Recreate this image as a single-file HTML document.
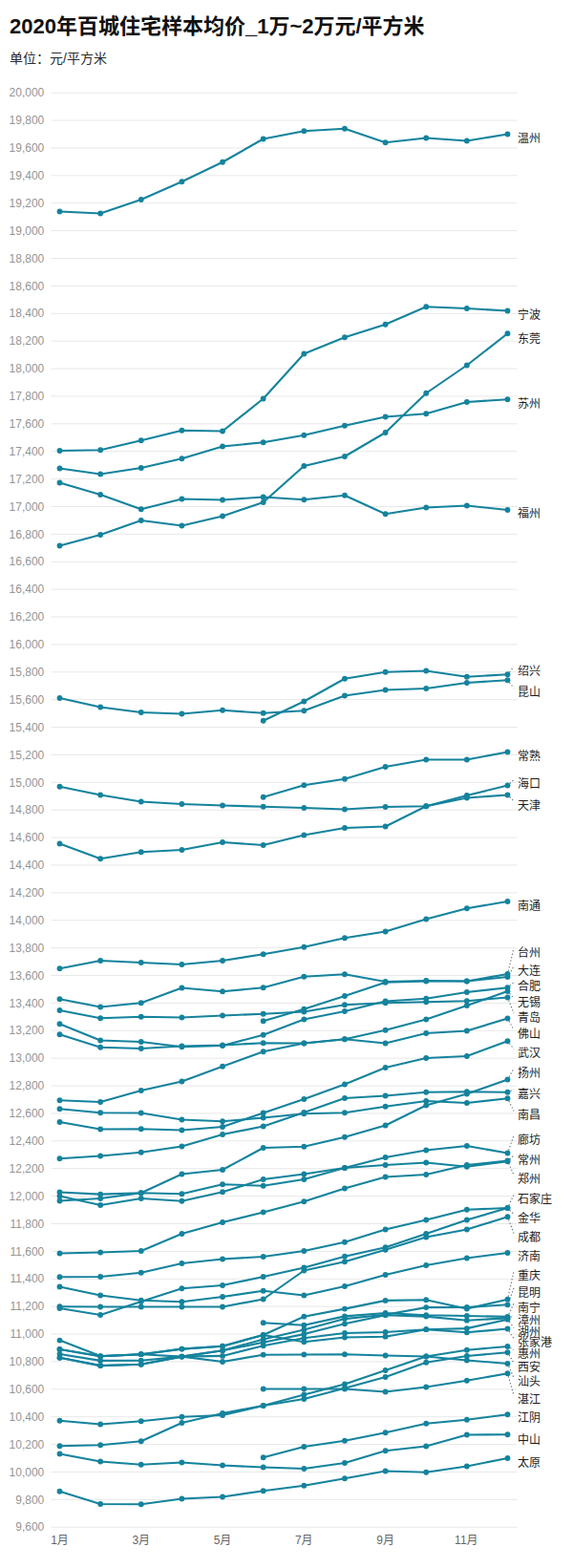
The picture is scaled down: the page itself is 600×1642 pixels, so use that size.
<!DOCTYPE html>
<html lang="zh"><head><meta charset="utf-8"><title>2020年百城住宅样本均价_1万~2万元/平方米</title>
<style>
html,body{margin:0;padding:0;background:#fff}
body{width:600px;height:1642px;overflow:hidden;font-family:"Liberation Sans","Noto Sans CJK SC",sans-serif}
svg{display:block}
text{font-family:"Liberation Sans","Noto Sans CJK SC",sans-serif}
</style></head>
<body>
<svg width="600" height="1642" viewBox="0 0 600 1642">
<g class="title" fill="#111">
<text x="10.00" y="35.00" font-size="22" font-weight="bold">2020年百城住宅样本均价_1万~2万元/平方米</text>
</g>
<g class="sub" fill="#2b2b2b">
<text x="10.00" y="66.00" font-size="14">单位：元/平方米</text>
</g>
<g class="grid" stroke="#e8e8e8" stroke-width="1">
<line x1="53.5" x2="541.5" y1="97.20" y2="97.20"/>
<line x1="53.5" x2="541.5" y1="126.09" y2="126.09"/>
<line x1="53.5" x2="541.5" y1="154.97" y2="154.97"/>
<line x1="53.5" x2="541.5" y1="183.86" y2="183.86"/>
<line x1="53.5" x2="541.5" y1="212.74" y2="212.74"/>
<line x1="53.5" x2="541.5" y1="241.62" y2="241.62"/>
<line x1="53.5" x2="541.5" y1="270.51" y2="270.51"/>
<line x1="53.5" x2="541.5" y1="299.40" y2="299.40"/>
<line x1="53.5" x2="541.5" y1="328.28" y2="328.28"/>
<line x1="53.5" x2="541.5" y1="357.17" y2="357.17"/>
<line x1="53.5" x2="541.5" y1="386.05" y2="386.05"/>
<line x1="53.5" x2="541.5" y1="414.94" y2="414.94"/>
<line x1="53.5" x2="541.5" y1="443.82" y2="443.82"/>
<line x1="53.5" x2="541.5" y1="472.70" y2="472.70"/>
<line x1="53.5" x2="541.5" y1="501.59" y2="501.59"/>
<line x1="53.5" x2="541.5" y1="530.48" y2="530.48"/>
<line x1="53.5" x2="541.5" y1="559.36" y2="559.36"/>
<line x1="53.5" x2="541.5" y1="588.25" y2="588.25"/>
<line x1="53.5" x2="541.5" y1="617.13" y2="617.13"/>
<line x1="53.5" x2="541.5" y1="646.02" y2="646.02"/>
<line x1="53.5" x2="541.5" y1="674.90" y2="674.90"/>
<line x1="53.5" x2="541.5" y1="703.79" y2="703.79"/>
<line x1="53.5" x2="541.5" y1="732.67" y2="732.67"/>
<line x1="53.5" x2="541.5" y1="761.56" y2="761.56"/>
<line x1="53.5" x2="541.5" y1="790.44" y2="790.44"/>
<line x1="53.5" x2="541.5" y1="819.33" y2="819.33"/>
<line x1="53.5" x2="541.5" y1="848.21" y2="848.21"/>
<line x1="53.5" x2="541.5" y1="877.10" y2="877.10"/>
<line x1="53.5" x2="541.5" y1="905.98" y2="905.98"/>
<line x1="53.5" x2="541.5" y1="934.87" y2="934.87"/>
<line x1="53.5" x2="541.5" y1="963.75" y2="963.75"/>
<line x1="53.5" x2="541.5" y1="992.64" y2="992.64"/>
<line x1="53.5" x2="541.5" y1="1021.52" y2="1021.52"/>
<line x1="53.5" x2="541.5" y1="1050.40" y2="1050.40"/>
<line x1="53.5" x2="541.5" y1="1079.29" y2="1079.29"/>
<line x1="53.5" x2="541.5" y1="1108.17" y2="1108.17"/>
<line x1="53.5" x2="541.5" y1="1137.06" y2="1137.06"/>
<line x1="53.5" x2="541.5" y1="1165.95" y2="1165.95"/>
<line x1="53.5" x2="541.5" y1="1194.83" y2="1194.83"/>
<line x1="53.5" x2="541.5" y1="1223.72" y2="1223.72"/>
<line x1="53.5" x2="541.5" y1="1252.60" y2="1252.60"/>
<line x1="53.5" x2="541.5" y1="1281.49" y2="1281.49"/>
<line x1="53.5" x2="541.5" y1="1310.37" y2="1310.37"/>
<line x1="53.5" x2="541.5" y1="1339.26" y2="1339.26"/>
<line x1="53.5" x2="541.5" y1="1368.14" y2="1368.14"/>
<line x1="53.5" x2="541.5" y1="1397.03" y2="1397.03"/>
<line x1="53.5" x2="541.5" y1="1425.91" y2="1425.91"/>
<line x1="53.5" x2="541.5" y1="1454.80" y2="1454.80"/>
<line x1="53.5" x2="541.5" y1="1483.68" y2="1483.68"/>
<line x1="53.5" x2="541.5" y1="1512.57" y2="1512.57"/>
<line x1="53.5" x2="541.5" y1="1541.45" y2="1541.45"/>
<line x1="53.5" x2="541.5" y1="1570.34" y2="1570.34"/>
<line x1="53.5" x2="541.5" y1="1599.22" y2="1599.22"/>
</g>
<g class="yl" fill="#959595">
<text x="46.30" y="101.40" font-size="12" text-anchor="end">20,000</text>
<text x="46.30" y="130.28" font-size="12" text-anchor="end">19,800</text>
<text x="46.30" y="159.17" font-size="12" text-anchor="end">19,600</text>
<text x="46.30" y="188.06" font-size="12" text-anchor="end">19,400</text>
<text x="46.30" y="216.94" font-size="12" text-anchor="end">19,200</text>
<text x="46.30" y="245.82" font-size="12" text-anchor="end">19,000</text>
<text x="46.30" y="274.71" font-size="12" text-anchor="end">18,800</text>
<text x="46.30" y="303.60" font-size="12" text-anchor="end">18,600</text>
<text x="46.30" y="332.48" font-size="12" text-anchor="end">18,400</text>
<text x="46.30" y="361.37" font-size="12" text-anchor="end">18,200</text>
<text x="46.30" y="390.25" font-size="12" text-anchor="end">18,000</text>
<text x="46.30" y="419.13" font-size="12" text-anchor="end">17,800</text>
<text x="46.30" y="448.02" font-size="12" text-anchor="end">17,600</text>
<text x="46.30" y="476.90" font-size="12" text-anchor="end">17,400</text>
<text x="46.30" y="505.79" font-size="12" text-anchor="end">17,200</text>
<text x="46.30" y="534.68" font-size="12" text-anchor="end">17,000</text>
<text x="46.30" y="563.56" font-size="12" text-anchor="end">16,800</text>
<text x="46.30" y="592.45" font-size="12" text-anchor="end">16,600</text>
<text x="46.30" y="621.33" font-size="12" text-anchor="end">16,400</text>
<text x="46.30" y="650.22" font-size="12" text-anchor="end">16,200</text>
<text x="46.30" y="679.10" font-size="12" text-anchor="end">16,000</text>
<text x="46.30" y="707.99" font-size="12" text-anchor="end">15,800</text>
<text x="46.30" y="736.87" font-size="12" text-anchor="end">15,600</text>
<text x="46.30" y="765.76" font-size="12" text-anchor="end">15,400</text>
<text x="46.30" y="794.64" font-size="12" text-anchor="end">15,200</text>
<text x="46.30" y="823.53" font-size="12" text-anchor="end">15,000</text>
<text x="46.30" y="852.41" font-size="12" text-anchor="end">14,800</text>
<text x="46.30" y="881.30" font-size="12" text-anchor="end">14,600</text>
<text x="46.30" y="910.18" font-size="12" text-anchor="end">14,400</text>
<text x="46.30" y="939.07" font-size="12" text-anchor="end">14,200</text>
<text x="46.30" y="967.95" font-size="12" text-anchor="end">14,000</text>
<text x="46.30" y="996.84" font-size="12" text-anchor="end">13,800</text>
<text x="46.30" y="1025.72" font-size="12" text-anchor="end">13,600</text>
<text x="46.30" y="1054.61" font-size="12" text-anchor="end">13,400</text>
<text x="46.30" y="1083.49" font-size="12" text-anchor="end">13,200</text>
<text x="46.30" y="1112.38" font-size="12" text-anchor="end">13,000</text>
<text x="46.30" y="1141.26" font-size="12" text-anchor="end">12,800</text>
<text x="46.30" y="1170.15" font-size="12" text-anchor="end">12,600</text>
<text x="46.30" y="1199.03" font-size="12" text-anchor="end">12,400</text>
<text x="46.30" y="1227.92" font-size="12" text-anchor="end">12,200</text>
<text x="46.30" y="1256.80" font-size="12" text-anchor="end">12,000</text>
<text x="46.30" y="1285.69" font-size="12" text-anchor="end">11,800</text>
<text x="46.30" y="1314.57" font-size="12" text-anchor="end">11,600</text>
<text x="46.30" y="1343.46" font-size="12" text-anchor="end">11,400</text>
<text x="46.30" y="1372.34" font-size="12" text-anchor="end">11,200</text>
<text x="46.30" y="1401.23" font-size="12" text-anchor="end">11,000</text>
<text x="46.30" y="1430.11" font-size="12" text-anchor="end">10,800</text>
<text x="46.30" y="1459.00" font-size="12" text-anchor="end">10,600</text>
<text x="46.30" y="1487.88" font-size="12" text-anchor="end">10,400</text>
<text x="46.30" y="1516.77" font-size="12" text-anchor="end">10,200</text>
<text x="46.30" y="1545.65" font-size="12" text-anchor="end">10,000</text>
<text x="46.30" y="1574.54" font-size="12" text-anchor="end">9,800</text>
<text x="46.30" y="1603.42" font-size="12" text-anchor="end">9,600</text>
</g>
<g class="xl" fill="#666">
<text x="53.13" y="1617.00" font-size="12">1月</text>
<text x="138.40" y="1617.00" font-size="12">3月</text>
<text x="223.67" y="1617.00" font-size="12">5月</text>
<text x="308.94" y="1617.00" font-size="12">7月</text>
<text x="394.22" y="1617.00" font-size="12">9月</text>
<text x="476.12" y="1617.00" font-size="12">11月</text>
</g>
<g class="lead" stroke="#566f77" stroke-width="1.1" stroke-dasharray="1.3 2.2" fill="none">
<line x1="533.48" y1="703.74" x2="538" y2="698.00"/>
<line x1="533.48" y1="714.76" x2="538" y2="720.50"/>
<line x1="533.87" y1="820.35" x2="538" y2="816.60"/>
<line x1="533.76" y1="834.76" x2="538" y2="839.00"/>
<line x1="532.25" y1="1016.89" x2="538" y2="993.00"/>
<line x1="533.12" y1="1020.25" x2="538" y2="1012.00"/>
<line x1="533.93" y1="1032.17" x2="538" y2="1028.70"/>
<line x1="533.62" y1="1040.39" x2="538" y2="1045.30"/>
<line x1="532.67" y1="1047.48" x2="538" y2="1061.00"/>
<line x1="533.02" y1="1069.31" x2="538" y2="1078.50"/>
<line x1="533.48" y1="1092.76" x2="538" y2="1098.50"/>
<line x1="533.07" y1="1127.71" x2="538" y2="1119.00"/>
<line x1="534.44" y1="1142.50" x2="538" y2="1141.00"/>
<line x1="532.91" y1="1153.12" x2="538" y2="1163.50"/>
<line x1="532.57" y1="1204.49" x2="538" y2="1189.25"/>
<line x1="533.80" y1="1214.03" x2="538" y2="1210.00"/>
<line x1="532.77" y1="1218.44" x2="538" y2="1230.50"/>
<line x1="532.84" y1="1262.10" x2="538" y2="1251.00"/>
<line x1="533.76" y1="1267.26" x2="538" y2="1271.50"/>
<line x1="532.62" y1="1277.24" x2="538" y2="1291.50"/>
<line x1="532.19" y1="1357.58" x2="538" y2="1331.50"/>
<line x1="532.62" y1="1363.30" x2="538" y2="1349.00"/>
<line x1="532.85" y1="1376.00" x2="538" y2="1365.00"/>
<line x1="534.50" y1="1379.29" x2="538" y2="1378.00"/>
<line x1="533.43" y1="1384.25" x2="538" y2="1390.30"/>
<line x1="533.19" y1="1394.21" x2="538" y2="1401.90"/>
<line x1="534.31" y1="1411.52" x2="538" y2="1413.50"/>
<line x1="533.12" y1="1419.00" x2="538" y2="1427.25"/>
<line x1="532.79" y1="1430.93" x2="538" y2="1442.70"/>
<line x1="532.38" y1="1441.33" x2="538" y2="1461.00"/>
</g>
<g class="series" fill="none" stroke="#15839d" stroke-width="2.1" stroke-linejoin="round" stroke-linecap="round">
<polyline points="62.50,221.50 105.14,223.50 147.77,209.00 190.41,190.25 233.04,169.75 275.68,145.50 318.32,137.25 360.95,134.75 403.59,149.25 446.22,144.50 488.86,147.50 531.50,140.50"/>
<polyline points="62.50,472.00 105.14,471.25 147.77,461.25 190.41,450.75 233.04,451.50 275.68,417.50 318.32,370.50 360.95,353.25 403.59,339.75 446.22,321.25 488.86,323.00 531.50,325.50"/>
<polyline points="62.50,571.50 105.14,560.00 147.77,545.00 190.41,550.50 233.04,540.50 275.68,526.00 318.32,488.00 360.95,478.00 403.59,453.00 446.22,411.75 488.86,382.50 531.50,349.25"/>
<polyline points="62.50,490.50 105.14,496.50 147.77,490.00 190.41,480.25 233.04,467.50 275.68,463.25 318.32,455.75 360.95,445.75 403.59,436.50 446.22,433.25 488.86,421.00 531.50,418.25"/>
<polyline points="62.50,505.50 105.14,518.00 147.77,533.25 190.41,522.50 233.04,523.50 275.68,520.50 318.32,523.25 360.95,518.75 403.59,538.25 446.22,531.50 488.86,529.50 531.50,534.00"/>
<polyline points="275.68,754.75 318.32,734.50 360.95,710.75 403.59,703.75 446.22,702.50 488.86,708.75 531.50,706.25"/>
<polyline points="62.50,731.00 105.14,740.50 147.77,746.00 190.41,747.50 233.04,743.75 275.68,746.75 318.32,744.25 360.95,728.50 403.59,722.50 446.22,721.00 488.86,715.00 531.50,712.25"/>
<polyline points="275.68,834.75 318.32,822.25 360.95,815.75 403.59,803.00 446.22,795.50 488.86,795.50 531.50,787.50"/>
<polyline points="62.50,883.50 105.14,899.25 147.77,892.25 190.41,890.00 233.04,882.00 275.68,885.00 318.32,874.50 360.95,867.00 403.59,865.50 446.22,844.25 488.86,833.00 531.50,822.50"/>
<polyline points="62.50,823.75 105.14,832.50 147.77,839.50 190.41,842.00 233.04,843.50 275.68,844.75 318.32,846.00 360.95,847.50 403.59,845.00 446.22,844.25 488.86,835.50 531.50,832.50"/>
<polyline points="62.50,1014.25 105.14,1006.00 147.77,1008.00 190.41,1010.00 233.04,1006.00 275.68,999.25 318.32,991.75 360.95,982.25 403.59,975.50 446.22,962.50 488.86,951.25 531.50,944.00"/>
<polyline points="62.50,1046.25 105.14,1054.50 147.77,1050.25 190.41,1034.50 233.04,1038.25 275.68,1034.25 318.32,1022.75 360.95,1020.25 403.59,1028.00 446.22,1027.00 488.86,1027.50 531.50,1020.00"/>
<polyline points="275.68,1069.25 318.32,1056.75 360.95,1043.00 403.59,1028.75 446.22,1027.50 488.86,1027.50 531.50,1023.00"/>
<polyline points="62.50,1072.25 105.14,1089.50 147.77,1091.00 190.41,1096.25 233.04,1095.00 275.68,1083.75 318.32,1067.50 360.95,1059.00 403.59,1048.50 446.22,1045.75 488.86,1039.00 531.50,1034.25"/>
<polyline points="62.50,1152.25 105.14,1154.00 147.77,1142.00 190.41,1132.50 233.04,1116.75 275.68,1101.25 318.32,1092.50 360.95,1088.25 403.59,1078.75 446.22,1067.50 488.86,1053.00 531.50,1038.00"/>
<polyline points="62.50,1058.00 105.14,1066.25 147.77,1064.75 190.41,1065.50 233.04,1063.50 275.68,1061.75 318.32,1059.50 360.95,1052.25 403.59,1050.25 446.22,1049.25 488.86,1048.25 531.50,1044.50"/>
<polyline points="62.50,1083.25 105.14,1096.75 147.77,1098.00 190.41,1095.50 233.04,1094.50 275.68,1092.25 318.32,1092.50 360.95,1088.25 403.59,1092.50 446.22,1082.00 488.86,1079.50 531.50,1066.50"/>
<polyline points="62.50,1175.00 105.14,1182.50 147.77,1182.25 190.41,1183.50 233.04,1180.00 275.68,1165.50 318.32,1151.00 360.95,1135.50 403.59,1118.00 446.22,1108.00 488.86,1106.00 531.50,1090.25"/>
<polyline points="62.50,1257.50 105.14,1255.00 147.77,1249.25 190.41,1229.50 233.04,1225.00 275.68,1202.00 318.32,1200.75 360.95,1190.75 403.59,1178.50 446.22,1157.50 488.86,1145.50 531.50,1130.50"/>
<polyline points="62.50,1213.25 105.14,1210.50 147.77,1206.75 190.41,1200.50 233.04,1188.00 275.68,1179.50 318.32,1165.00 360.95,1150.00 403.59,1147.50 446.22,1143.75 488.86,1143.25 531.50,1143.75"/>
<polyline points="62.50,1161.25 105.14,1165.25 147.77,1165.50 190.41,1172.50 233.04,1174.25 275.68,1170.50 318.32,1166.25 360.95,1165.25 403.59,1158.75 446.22,1153.00 488.86,1155.00 531.50,1150.25"/>
<polyline points="62.50,1252.50 105.14,1262.00 147.77,1255.00 190.41,1257.75 233.04,1248.25 275.68,1235.00 318.32,1229.50 360.95,1223.00 403.59,1212.00 446.22,1204.50 488.86,1200.00 531.50,1207.50"/>
<polyline points="62.50,1248.50 105.14,1250.60 147.77,1249.25 190.41,1250.25 233.04,1240.25 275.68,1241.75 318.32,1235.00 360.95,1223.00 403.59,1220.00 446.22,1217.50 488.86,1221.75 531.50,1216.25"/>
<polyline points="62.50,1312.50 105.14,1311.50 147.77,1310.00 190.41,1292.00 233.04,1280.00 275.68,1269.50 318.32,1258.25 360.95,1244.50 403.59,1232.50 446.22,1230.00 488.86,1220.00 531.50,1215.50"/>
<polyline points="62.50,1337.25 105.14,1337.00 147.77,1332.75 190.41,1323.00 233.04,1318.50 275.68,1316.00 318.32,1310.00 360.95,1300.75 403.59,1287.50 446.22,1277.50 488.86,1266.75 531.50,1265.00"/>
<polyline points="62.50,1370.00 105.14,1377.00 147.77,1363.00 190.41,1349.25 233.04,1346.00 275.68,1337.00 318.32,1327.50 360.95,1315.75 403.59,1306.25 446.22,1292.00 488.86,1277.50 531.50,1265.00"/>
<polyline points="62.50,1368.25 105.14,1368.50 147.77,1368.50 190.41,1368.50 233.04,1368.50 275.68,1360.50 318.32,1330.50 360.95,1321.25 403.59,1308.75 446.22,1295.50 488.86,1287.50 531.50,1274.25"/>
<polyline points="62.50,1347.50 105.14,1356.50 147.77,1361.75 190.41,1363.25 233.04,1358.00 275.68,1351.75 318.32,1356.50 360.95,1347.00 403.59,1335.00 446.22,1325.00 488.86,1317.50 531.50,1312.00"/>
<polyline points="62.50,1403.60 105.14,1420.10 147.77,1418.20 190.41,1412.60 233.04,1409.70 275.68,1398.00 318.32,1378.70 360.95,1370.60 403.59,1361.90 446.22,1361.20 488.86,1370.50 531.50,1360.70"/>
<polyline points="62.50,1413.00 105.14,1420.30 147.77,1418.20 190.41,1420.60 233.04,1414.30 275.68,1402.50 318.32,1392.40 360.95,1381.10 403.59,1376.80 446.22,1369.10 488.86,1369.00 531.50,1366.30"/>
<polyline points="275.68,1385.20 318.32,1387.70 360.95,1378.40 403.59,1375.00 446.22,1377.20 488.86,1378.00 531.50,1378.90"/>
<polyline points="62.50,1418.00 105.14,1424.90 147.77,1424.75 190.41,1420.60 233.04,1414.30 275.68,1405.80 318.32,1397.10 360.95,1386.30 403.59,1377.20 446.22,1378.60 488.86,1382.70 531.50,1380.40"/>
<polyline points="62.50,1421.80 105.14,1430.10 147.77,1428.80 190.41,1420.60 233.04,1419.90 275.68,1409.30 318.32,1401.30 360.95,1396.00 403.59,1395.00 446.22,1392.20 488.86,1391.10 531.50,1381.70"/>
<polyline points="62.50,1413.00 105.14,1420.30 147.77,1418.20 190.41,1412.60 233.04,1409.70 275.68,1398.00 318.32,1405.30 360.95,1400.50 403.59,1399.70 446.22,1392.20 488.86,1395.30 531.50,1391.50"/>
<polyline points="62.50,1514.25 105.14,1513.25 147.77,1509.25 190.41,1490.00 233.04,1480.00 275.68,1472.00 318.32,1460.50 360.95,1449.50 403.59,1435.00 446.22,1420.50 488.86,1413.75 531.50,1410.00"/>
<polyline points="62.50,1487.75 105.14,1491.50 147.77,1488.25 190.41,1483.75 233.04,1482.00 275.68,1472.00 318.32,1465.00 360.95,1453.75 403.59,1442.00 446.22,1426.75 488.86,1420.00 531.50,1416.25"/>
<polyline points="62.50,1421.80 105.14,1430.10 147.77,1428.80 190.41,1420.60 233.04,1426.00 275.68,1418.70 318.32,1418.50 360.95,1418.25 403.59,1419.50 446.22,1420.50 488.86,1424.50 531.50,1428.00"/>
<polyline points="275.68,1454.50 318.32,1454.50 360.95,1454.50 403.59,1457.50 446.22,1452.50 488.86,1445.75 531.50,1438.25"/>
<polyline points="275.68,1526.25 318.32,1515.00 360.95,1508.75 403.59,1500.25 446.22,1490.75 488.86,1486.75 531.50,1481.25"/>
<polyline points="62.50,1522.50 105.14,1530.50 147.77,1533.75 190.41,1531.50 233.04,1534.50 275.68,1536.50 318.32,1538.00 360.95,1532.00 403.59,1519.25 446.22,1514.50 488.86,1502.50 531.50,1502.25"/>
<polyline points="62.50,1561.75 105.14,1575.00 147.77,1575.25 190.41,1569.50 233.04,1567.50 275.68,1561.25 318.32,1555.75 360.95,1548.25 403.59,1540.50 446.22,1541.75 488.86,1535.50 531.50,1527.00"/>
</g>
<g class="dots" fill="#15839d">
<circle cx="62.50" cy="221.50" r="2.9"/>
<circle cx="105.14" cy="223.50" r="2.9"/>
<circle cx="147.77" cy="209.00" r="2.9"/>
<circle cx="190.41" cy="190.25" r="2.9"/>
<circle cx="233.04" cy="169.75" r="2.9"/>
<circle cx="275.68" cy="145.50" r="2.9"/>
<circle cx="318.32" cy="137.25" r="2.9"/>
<circle cx="360.95" cy="134.75" r="2.9"/>
<circle cx="403.59" cy="149.25" r="2.9"/>
<circle cx="446.22" cy="144.50" r="2.9"/>
<circle cx="488.86" cy="147.50" r="2.9"/>
<circle cx="531.50" cy="140.50" r="2.9"/>
<circle cx="62.50" cy="472.00" r="2.9"/>
<circle cx="105.14" cy="471.25" r="2.9"/>
<circle cx="147.77" cy="461.25" r="2.9"/>
<circle cx="190.41" cy="450.75" r="2.9"/>
<circle cx="233.04" cy="451.50" r="2.9"/>
<circle cx="275.68" cy="417.50" r="2.9"/>
<circle cx="318.32" cy="370.50" r="2.9"/>
<circle cx="360.95" cy="353.25" r="2.9"/>
<circle cx="403.59" cy="339.75" r="2.9"/>
<circle cx="446.22" cy="321.25" r="2.9"/>
<circle cx="488.86" cy="323.00" r="2.9"/>
<circle cx="531.50" cy="325.50" r="2.9"/>
<circle cx="62.50" cy="571.50" r="2.9"/>
<circle cx="105.14" cy="560.00" r="2.9"/>
<circle cx="147.77" cy="545.00" r="2.9"/>
<circle cx="190.41" cy="550.50" r="2.9"/>
<circle cx="233.04" cy="540.50" r="2.9"/>
<circle cx="275.68" cy="526.00" r="2.9"/>
<circle cx="318.32" cy="488.00" r="2.9"/>
<circle cx="360.95" cy="478.00" r="2.9"/>
<circle cx="403.59" cy="453.00" r="2.9"/>
<circle cx="446.22" cy="411.75" r="2.9"/>
<circle cx="488.86" cy="382.50" r="2.9"/>
<circle cx="531.50" cy="349.25" r="2.9"/>
<circle cx="62.50" cy="490.50" r="2.9"/>
<circle cx="105.14" cy="496.50" r="2.9"/>
<circle cx="147.77" cy="490.00" r="2.9"/>
<circle cx="190.41" cy="480.25" r="2.9"/>
<circle cx="233.04" cy="467.50" r="2.9"/>
<circle cx="275.68" cy="463.25" r="2.9"/>
<circle cx="318.32" cy="455.75" r="2.9"/>
<circle cx="360.95" cy="445.75" r="2.9"/>
<circle cx="403.59" cy="436.50" r="2.9"/>
<circle cx="446.22" cy="433.25" r="2.9"/>
<circle cx="488.86" cy="421.00" r="2.9"/>
<circle cx="531.50" cy="418.25" r="2.9"/>
<circle cx="62.50" cy="505.50" r="2.9"/>
<circle cx="105.14" cy="518.00" r="2.9"/>
<circle cx="147.77" cy="533.25" r="2.9"/>
<circle cx="190.41" cy="522.50" r="2.9"/>
<circle cx="233.04" cy="523.50" r="2.9"/>
<circle cx="275.68" cy="520.50" r="2.9"/>
<circle cx="318.32" cy="523.25" r="2.9"/>
<circle cx="360.95" cy="518.75" r="2.9"/>
<circle cx="403.59" cy="538.25" r="2.9"/>
<circle cx="446.22" cy="531.50" r="2.9"/>
<circle cx="488.86" cy="529.50" r="2.9"/>
<circle cx="531.50" cy="534.00" r="2.9"/>
<circle cx="275.68" cy="754.75" r="2.9"/>
<circle cx="318.32" cy="734.50" r="2.9"/>
<circle cx="360.95" cy="710.75" r="2.9"/>
<circle cx="403.59" cy="703.75" r="2.9"/>
<circle cx="446.22" cy="702.50" r="2.9"/>
<circle cx="488.86" cy="708.75" r="2.9"/>
<circle cx="531.50" cy="706.25" r="2.9"/>
<circle cx="62.50" cy="731.00" r="2.9"/>
<circle cx="105.14" cy="740.50" r="2.9"/>
<circle cx="147.77" cy="746.00" r="2.9"/>
<circle cx="190.41" cy="747.50" r="2.9"/>
<circle cx="233.04" cy="743.75" r="2.9"/>
<circle cx="275.68" cy="746.75" r="2.9"/>
<circle cx="318.32" cy="744.25" r="2.9"/>
<circle cx="360.95" cy="728.50" r="2.9"/>
<circle cx="403.59" cy="722.50" r="2.9"/>
<circle cx="446.22" cy="721.00" r="2.9"/>
<circle cx="488.86" cy="715.00" r="2.9"/>
<circle cx="531.50" cy="712.25" r="2.9"/>
<circle cx="275.68" cy="834.75" r="2.9"/>
<circle cx="318.32" cy="822.25" r="2.9"/>
<circle cx="360.95" cy="815.75" r="2.9"/>
<circle cx="403.59" cy="803.00" r="2.9"/>
<circle cx="446.22" cy="795.50" r="2.9"/>
<circle cx="488.86" cy="795.50" r="2.9"/>
<circle cx="531.50" cy="787.50" r="2.9"/>
<circle cx="62.50" cy="883.50" r="2.9"/>
<circle cx="105.14" cy="899.25" r="2.9"/>
<circle cx="147.77" cy="892.25" r="2.9"/>
<circle cx="190.41" cy="890.00" r="2.9"/>
<circle cx="233.04" cy="882.00" r="2.9"/>
<circle cx="275.68" cy="885.00" r="2.9"/>
<circle cx="318.32" cy="874.50" r="2.9"/>
<circle cx="360.95" cy="867.00" r="2.9"/>
<circle cx="403.59" cy="865.50" r="2.9"/>
<circle cx="446.22" cy="844.25" r="2.9"/>
<circle cx="488.86" cy="833.00" r="2.9"/>
<circle cx="531.50" cy="822.50" r="2.9"/>
<circle cx="62.50" cy="823.75" r="2.9"/>
<circle cx="105.14" cy="832.50" r="2.9"/>
<circle cx="147.77" cy="839.50" r="2.9"/>
<circle cx="190.41" cy="842.00" r="2.9"/>
<circle cx="233.04" cy="843.50" r="2.9"/>
<circle cx="275.68" cy="844.75" r="2.9"/>
<circle cx="318.32" cy="846.00" r="2.9"/>
<circle cx="360.95" cy="847.50" r="2.9"/>
<circle cx="403.59" cy="845.00" r="2.9"/>
<circle cx="446.22" cy="844.25" r="2.9"/>
<circle cx="488.86" cy="835.50" r="2.9"/>
<circle cx="531.50" cy="832.50" r="2.9"/>
<circle cx="62.50" cy="1014.25" r="2.9"/>
<circle cx="105.14" cy="1006.00" r="2.9"/>
<circle cx="147.77" cy="1008.00" r="2.9"/>
<circle cx="190.41" cy="1010.00" r="2.9"/>
<circle cx="233.04" cy="1006.00" r="2.9"/>
<circle cx="275.68" cy="999.25" r="2.9"/>
<circle cx="318.32" cy="991.75" r="2.9"/>
<circle cx="360.95" cy="982.25" r="2.9"/>
<circle cx="403.59" cy="975.50" r="2.9"/>
<circle cx="446.22" cy="962.50" r="2.9"/>
<circle cx="488.86" cy="951.25" r="2.9"/>
<circle cx="531.50" cy="944.00" r="2.9"/>
<circle cx="62.50" cy="1046.25" r="2.9"/>
<circle cx="105.14" cy="1054.50" r="2.9"/>
<circle cx="147.77" cy="1050.25" r="2.9"/>
<circle cx="190.41" cy="1034.50" r="2.9"/>
<circle cx="233.04" cy="1038.25" r="2.9"/>
<circle cx="275.68" cy="1034.25" r="2.9"/>
<circle cx="318.32" cy="1022.75" r="2.9"/>
<circle cx="360.95" cy="1020.25" r="2.9"/>
<circle cx="403.59" cy="1028.00" r="2.9"/>
<circle cx="446.22" cy="1027.00" r="2.9"/>
<circle cx="488.86" cy="1027.50" r="2.9"/>
<circle cx="531.50" cy="1020.00" r="2.9"/>
<circle cx="275.68" cy="1069.25" r="2.9"/>
<circle cx="318.32" cy="1056.75" r="2.9"/>
<circle cx="360.95" cy="1043.00" r="2.9"/>
<circle cx="403.59" cy="1028.75" r="2.9"/>
<circle cx="446.22" cy="1027.50" r="2.9"/>
<circle cx="488.86" cy="1027.50" r="2.9"/>
<circle cx="531.50" cy="1023.00" r="2.9"/>
<circle cx="62.50" cy="1072.25" r="2.9"/>
<circle cx="105.14" cy="1089.50" r="2.9"/>
<circle cx="147.77" cy="1091.00" r="2.9"/>
<circle cx="190.41" cy="1096.25" r="2.9"/>
<circle cx="233.04" cy="1095.00" r="2.9"/>
<circle cx="275.68" cy="1083.75" r="2.9"/>
<circle cx="318.32" cy="1067.50" r="2.9"/>
<circle cx="360.95" cy="1059.00" r="2.9"/>
<circle cx="403.59" cy="1048.50" r="2.9"/>
<circle cx="446.22" cy="1045.75" r="2.9"/>
<circle cx="488.86" cy="1039.00" r="2.9"/>
<circle cx="531.50" cy="1034.25" r="2.9"/>
<circle cx="62.50" cy="1152.25" r="2.9"/>
<circle cx="105.14" cy="1154.00" r="2.9"/>
<circle cx="147.77" cy="1142.00" r="2.9"/>
<circle cx="190.41" cy="1132.50" r="2.9"/>
<circle cx="233.04" cy="1116.75" r="2.9"/>
<circle cx="275.68" cy="1101.25" r="2.9"/>
<circle cx="318.32" cy="1092.50" r="2.9"/>
<circle cx="360.95" cy="1088.25" r="2.9"/>
<circle cx="403.59" cy="1078.75" r="2.9"/>
<circle cx="446.22" cy="1067.50" r="2.9"/>
<circle cx="488.86" cy="1053.00" r="2.9"/>
<circle cx="531.50" cy="1038.00" r="2.9"/>
<circle cx="62.50" cy="1058.00" r="2.9"/>
<circle cx="105.14" cy="1066.25" r="2.9"/>
<circle cx="147.77" cy="1064.75" r="2.9"/>
<circle cx="190.41" cy="1065.50" r="2.9"/>
<circle cx="233.04" cy="1063.50" r="2.9"/>
<circle cx="275.68" cy="1061.75" r="2.9"/>
<circle cx="318.32" cy="1059.50" r="2.9"/>
<circle cx="360.95" cy="1052.25" r="2.9"/>
<circle cx="403.59" cy="1050.25" r="2.9"/>
<circle cx="446.22" cy="1049.25" r="2.9"/>
<circle cx="488.86" cy="1048.25" r="2.9"/>
<circle cx="531.50" cy="1044.50" r="2.9"/>
<circle cx="62.50" cy="1083.25" r="2.9"/>
<circle cx="105.14" cy="1096.75" r="2.9"/>
<circle cx="147.77" cy="1098.00" r="2.9"/>
<circle cx="190.41" cy="1095.50" r="2.9"/>
<circle cx="233.04" cy="1094.50" r="2.9"/>
<circle cx="275.68" cy="1092.25" r="2.9"/>
<circle cx="318.32" cy="1092.50" r="2.9"/>
<circle cx="360.95" cy="1088.25" r="2.9"/>
<circle cx="403.59" cy="1092.50" r="2.9"/>
<circle cx="446.22" cy="1082.00" r="2.9"/>
<circle cx="488.86" cy="1079.50" r="2.9"/>
<circle cx="531.50" cy="1066.50" r="2.9"/>
<circle cx="62.50" cy="1175.00" r="2.9"/>
<circle cx="105.14" cy="1182.50" r="2.9"/>
<circle cx="147.77" cy="1182.25" r="2.9"/>
<circle cx="190.41" cy="1183.50" r="2.9"/>
<circle cx="233.04" cy="1180.00" r="2.9"/>
<circle cx="275.68" cy="1165.50" r="2.9"/>
<circle cx="318.32" cy="1151.00" r="2.9"/>
<circle cx="360.95" cy="1135.50" r="2.9"/>
<circle cx="403.59" cy="1118.00" r="2.9"/>
<circle cx="446.22" cy="1108.00" r="2.9"/>
<circle cx="488.86" cy="1106.00" r="2.9"/>
<circle cx="531.50" cy="1090.25" r="2.9"/>
<circle cx="62.50" cy="1257.50" r="2.9"/>
<circle cx="105.14" cy="1255.00" r="2.9"/>
<circle cx="147.77" cy="1249.25" r="2.9"/>
<circle cx="190.41" cy="1229.50" r="2.9"/>
<circle cx="233.04" cy="1225.00" r="2.9"/>
<circle cx="275.68" cy="1202.00" r="2.9"/>
<circle cx="318.32" cy="1200.75" r="2.9"/>
<circle cx="360.95" cy="1190.75" r="2.9"/>
<circle cx="403.59" cy="1178.50" r="2.9"/>
<circle cx="446.22" cy="1157.50" r="2.9"/>
<circle cx="488.86" cy="1145.50" r="2.9"/>
<circle cx="531.50" cy="1130.50" r="2.9"/>
<circle cx="62.50" cy="1213.25" r="2.9"/>
<circle cx="105.14" cy="1210.50" r="2.9"/>
<circle cx="147.77" cy="1206.75" r="2.9"/>
<circle cx="190.41" cy="1200.50" r="2.9"/>
<circle cx="233.04" cy="1188.00" r="2.9"/>
<circle cx="275.68" cy="1179.50" r="2.9"/>
<circle cx="318.32" cy="1165.00" r="2.9"/>
<circle cx="360.95" cy="1150.00" r="2.9"/>
<circle cx="403.59" cy="1147.50" r="2.9"/>
<circle cx="446.22" cy="1143.75" r="2.9"/>
<circle cx="488.86" cy="1143.25" r="2.9"/>
<circle cx="531.50" cy="1143.75" r="2.9"/>
<circle cx="62.50" cy="1161.25" r="2.9"/>
<circle cx="105.14" cy="1165.25" r="2.9"/>
<circle cx="147.77" cy="1165.50" r="2.9"/>
<circle cx="190.41" cy="1172.50" r="2.9"/>
<circle cx="233.04" cy="1174.25" r="2.9"/>
<circle cx="275.68" cy="1170.50" r="2.9"/>
<circle cx="318.32" cy="1166.25" r="2.9"/>
<circle cx="360.95" cy="1165.25" r="2.9"/>
<circle cx="403.59" cy="1158.75" r="2.9"/>
<circle cx="446.22" cy="1153.00" r="2.9"/>
<circle cx="488.86" cy="1155.00" r="2.9"/>
<circle cx="531.50" cy="1150.25" r="2.9"/>
<circle cx="62.50" cy="1252.50" r="2.9"/>
<circle cx="105.14" cy="1262.00" r="2.9"/>
<circle cx="147.77" cy="1255.00" r="2.9"/>
<circle cx="190.41" cy="1257.75" r="2.9"/>
<circle cx="233.04" cy="1248.25" r="2.9"/>
<circle cx="275.68" cy="1235.00" r="2.9"/>
<circle cx="318.32" cy="1229.50" r="2.9"/>
<circle cx="360.95" cy="1223.00" r="2.9"/>
<circle cx="403.59" cy="1212.00" r="2.9"/>
<circle cx="446.22" cy="1204.50" r="2.9"/>
<circle cx="488.86" cy="1200.00" r="2.9"/>
<circle cx="531.50" cy="1207.50" r="2.9"/>
<circle cx="62.50" cy="1248.50" r="2.9"/>
<circle cx="105.14" cy="1250.60" r="2.9"/>
<circle cx="147.77" cy="1249.25" r="2.9"/>
<circle cx="190.41" cy="1250.25" r="2.9"/>
<circle cx="233.04" cy="1240.25" r="2.9"/>
<circle cx="275.68" cy="1241.75" r="2.9"/>
<circle cx="318.32" cy="1235.00" r="2.9"/>
<circle cx="360.95" cy="1223.00" r="2.9"/>
<circle cx="403.59" cy="1220.00" r="2.9"/>
<circle cx="446.22" cy="1217.50" r="2.9"/>
<circle cx="488.86" cy="1221.75" r="2.9"/>
<circle cx="531.50" cy="1216.25" r="2.9"/>
<circle cx="62.50" cy="1312.50" r="2.9"/>
<circle cx="105.14" cy="1311.50" r="2.9"/>
<circle cx="147.77" cy="1310.00" r="2.9"/>
<circle cx="190.41" cy="1292.00" r="2.9"/>
<circle cx="233.04" cy="1280.00" r="2.9"/>
<circle cx="275.68" cy="1269.50" r="2.9"/>
<circle cx="318.32" cy="1258.25" r="2.9"/>
<circle cx="360.95" cy="1244.50" r="2.9"/>
<circle cx="403.59" cy="1232.50" r="2.9"/>
<circle cx="446.22" cy="1230.00" r="2.9"/>
<circle cx="488.86" cy="1220.00" r="2.9"/>
<circle cx="531.50" cy="1215.50" r="2.9"/>
<circle cx="62.50" cy="1337.25" r="2.9"/>
<circle cx="105.14" cy="1337.00" r="2.9"/>
<circle cx="147.77" cy="1332.75" r="2.9"/>
<circle cx="190.41" cy="1323.00" r="2.9"/>
<circle cx="233.04" cy="1318.50" r="2.9"/>
<circle cx="275.68" cy="1316.00" r="2.9"/>
<circle cx="318.32" cy="1310.00" r="2.9"/>
<circle cx="360.95" cy="1300.75" r="2.9"/>
<circle cx="403.59" cy="1287.50" r="2.9"/>
<circle cx="446.22" cy="1277.50" r="2.9"/>
<circle cx="488.86" cy="1266.75" r="2.9"/>
<circle cx="531.50" cy="1265.00" r="2.9"/>
<circle cx="62.50" cy="1370.00" r="2.9"/>
<circle cx="105.14" cy="1377.00" r="2.9"/>
<circle cx="147.77" cy="1363.00" r="2.9"/>
<circle cx="190.41" cy="1349.25" r="2.9"/>
<circle cx="233.04" cy="1346.00" r="2.9"/>
<circle cx="275.68" cy="1337.00" r="2.9"/>
<circle cx="318.32" cy="1327.50" r="2.9"/>
<circle cx="360.95" cy="1315.75" r="2.9"/>
<circle cx="403.59" cy="1306.25" r="2.9"/>
<circle cx="446.22" cy="1292.00" r="2.9"/>
<circle cx="488.86" cy="1277.50" r="2.9"/>
<circle cx="531.50" cy="1265.00" r="2.9"/>
<circle cx="62.50" cy="1368.25" r="2.9"/>
<circle cx="105.14" cy="1368.50" r="2.9"/>
<circle cx="147.77" cy="1368.50" r="2.9"/>
<circle cx="190.41" cy="1368.50" r="2.9"/>
<circle cx="233.04" cy="1368.50" r="2.9"/>
<circle cx="275.68" cy="1360.50" r="2.9"/>
<circle cx="318.32" cy="1330.50" r="2.9"/>
<circle cx="360.95" cy="1321.25" r="2.9"/>
<circle cx="403.59" cy="1308.75" r="2.9"/>
<circle cx="446.22" cy="1295.50" r="2.9"/>
<circle cx="488.86" cy="1287.50" r="2.9"/>
<circle cx="531.50" cy="1274.25" r="2.9"/>
<circle cx="62.50" cy="1347.50" r="2.9"/>
<circle cx="105.14" cy="1356.50" r="2.9"/>
<circle cx="147.77" cy="1361.75" r="2.9"/>
<circle cx="190.41" cy="1363.25" r="2.9"/>
<circle cx="233.04" cy="1358.00" r="2.9"/>
<circle cx="275.68" cy="1351.75" r="2.9"/>
<circle cx="318.32" cy="1356.50" r="2.9"/>
<circle cx="360.95" cy="1347.00" r="2.9"/>
<circle cx="403.59" cy="1335.00" r="2.9"/>
<circle cx="446.22" cy="1325.00" r="2.9"/>
<circle cx="488.86" cy="1317.50" r="2.9"/>
<circle cx="531.50" cy="1312.00" r="2.9"/>
<circle cx="62.50" cy="1403.60" r="2.9"/>
<circle cx="105.14" cy="1420.10" r="2.9"/>
<circle cx="147.77" cy="1418.20" r="2.9"/>
<circle cx="190.41" cy="1412.60" r="2.9"/>
<circle cx="233.04" cy="1409.70" r="2.9"/>
<circle cx="275.68" cy="1398.00" r="2.9"/>
<circle cx="318.32" cy="1378.70" r="2.9"/>
<circle cx="360.95" cy="1370.60" r="2.9"/>
<circle cx="403.59" cy="1361.90" r="2.9"/>
<circle cx="446.22" cy="1361.20" r="2.9"/>
<circle cx="488.86" cy="1370.50" r="2.9"/>
<circle cx="531.50" cy="1360.70" r="2.9"/>
<circle cx="62.50" cy="1413.00" r="2.9"/>
<circle cx="105.14" cy="1420.30" r="2.9"/>
<circle cx="147.77" cy="1418.20" r="2.9"/>
<circle cx="190.41" cy="1420.60" r="2.9"/>
<circle cx="233.04" cy="1414.30" r="2.9"/>
<circle cx="275.68" cy="1402.50" r="2.9"/>
<circle cx="318.32" cy="1392.40" r="2.9"/>
<circle cx="360.95" cy="1381.10" r="2.9"/>
<circle cx="403.59" cy="1376.80" r="2.9"/>
<circle cx="446.22" cy="1369.10" r="2.9"/>
<circle cx="488.86" cy="1369.00" r="2.9"/>
<circle cx="531.50" cy="1366.30" r="2.9"/>
<circle cx="275.68" cy="1385.20" r="2.9"/>
<circle cx="318.32" cy="1387.70" r="2.9"/>
<circle cx="360.95" cy="1378.40" r="2.9"/>
<circle cx="403.59" cy="1375.00" r="2.9"/>
<circle cx="446.22" cy="1377.20" r="2.9"/>
<circle cx="488.86" cy="1378.00" r="2.9"/>
<circle cx="531.50" cy="1378.90" r="2.9"/>
<circle cx="62.50" cy="1418.00" r="2.9"/>
<circle cx="105.14" cy="1424.90" r="2.9"/>
<circle cx="147.77" cy="1424.75" r="2.9"/>
<circle cx="190.41" cy="1420.60" r="2.9"/>
<circle cx="233.04" cy="1414.30" r="2.9"/>
<circle cx="275.68" cy="1405.80" r="2.9"/>
<circle cx="318.32" cy="1397.10" r="2.9"/>
<circle cx="360.95" cy="1386.30" r="2.9"/>
<circle cx="403.59" cy="1377.20" r="2.9"/>
<circle cx="446.22" cy="1378.60" r="2.9"/>
<circle cx="488.86" cy="1382.70" r="2.9"/>
<circle cx="531.50" cy="1380.40" r="2.9"/>
<circle cx="62.50" cy="1421.80" r="2.9"/>
<circle cx="105.14" cy="1430.10" r="2.9"/>
<circle cx="147.77" cy="1428.80" r="2.9"/>
<circle cx="190.41" cy="1420.60" r="2.9"/>
<circle cx="233.04" cy="1419.90" r="2.9"/>
<circle cx="275.68" cy="1409.30" r="2.9"/>
<circle cx="318.32" cy="1401.30" r="2.9"/>
<circle cx="360.95" cy="1396.00" r="2.9"/>
<circle cx="403.59" cy="1395.00" r="2.9"/>
<circle cx="446.22" cy="1392.20" r="2.9"/>
<circle cx="488.86" cy="1391.10" r="2.9"/>
<circle cx="531.50" cy="1381.70" r="2.9"/>
<circle cx="62.50" cy="1413.00" r="2.9"/>
<circle cx="105.14" cy="1420.30" r="2.9"/>
<circle cx="147.77" cy="1418.20" r="2.9"/>
<circle cx="190.41" cy="1412.60" r="2.9"/>
<circle cx="233.04" cy="1409.70" r="2.9"/>
<circle cx="275.68" cy="1398.00" r="2.9"/>
<circle cx="318.32" cy="1405.30" r="2.9"/>
<circle cx="360.95" cy="1400.50" r="2.9"/>
<circle cx="403.59" cy="1399.70" r="2.9"/>
<circle cx="446.22" cy="1392.20" r="2.9"/>
<circle cx="488.86" cy="1395.30" r="2.9"/>
<circle cx="531.50" cy="1391.50" r="2.9"/>
<circle cx="62.50" cy="1514.25" r="2.9"/>
<circle cx="105.14" cy="1513.25" r="2.9"/>
<circle cx="147.77" cy="1509.25" r="2.9"/>
<circle cx="190.41" cy="1490.00" r="2.9"/>
<circle cx="233.04" cy="1480.00" r="2.9"/>
<circle cx="275.68" cy="1472.00" r="2.9"/>
<circle cx="318.32" cy="1460.50" r="2.9"/>
<circle cx="360.95" cy="1449.50" r="2.9"/>
<circle cx="403.59" cy="1435.00" r="2.9"/>
<circle cx="446.22" cy="1420.50" r="2.9"/>
<circle cx="488.86" cy="1413.75" r="2.9"/>
<circle cx="531.50" cy="1410.00" r="2.9"/>
<circle cx="62.50" cy="1487.75" r="2.9"/>
<circle cx="105.14" cy="1491.50" r="2.9"/>
<circle cx="147.77" cy="1488.25" r="2.9"/>
<circle cx="190.41" cy="1483.75" r="2.9"/>
<circle cx="233.04" cy="1482.00" r="2.9"/>
<circle cx="275.68" cy="1472.00" r="2.9"/>
<circle cx="318.32" cy="1465.00" r="2.9"/>
<circle cx="360.95" cy="1453.75" r="2.9"/>
<circle cx="403.59" cy="1442.00" r="2.9"/>
<circle cx="446.22" cy="1426.75" r="2.9"/>
<circle cx="488.86" cy="1420.00" r="2.9"/>
<circle cx="531.50" cy="1416.25" r="2.9"/>
<circle cx="62.50" cy="1421.80" r="2.9"/>
<circle cx="105.14" cy="1430.10" r="2.9"/>
<circle cx="147.77" cy="1428.80" r="2.9"/>
<circle cx="190.41" cy="1420.60" r="2.9"/>
<circle cx="233.04" cy="1426.00" r="2.9"/>
<circle cx="275.68" cy="1418.70" r="2.9"/>
<circle cx="318.32" cy="1418.50" r="2.9"/>
<circle cx="360.95" cy="1418.25" r="2.9"/>
<circle cx="403.59" cy="1419.50" r="2.9"/>
<circle cx="446.22" cy="1420.50" r="2.9"/>
<circle cx="488.86" cy="1424.50" r="2.9"/>
<circle cx="531.50" cy="1428.00" r="2.9"/>
<circle cx="275.68" cy="1454.50" r="2.9"/>
<circle cx="318.32" cy="1454.50" r="2.9"/>
<circle cx="360.95" cy="1454.50" r="2.9"/>
<circle cx="403.59" cy="1457.50" r="2.9"/>
<circle cx="446.22" cy="1452.50" r="2.9"/>
<circle cx="488.86" cy="1445.75" r="2.9"/>
<circle cx="531.50" cy="1438.25" r="2.9"/>
<circle cx="275.68" cy="1526.25" r="2.9"/>
<circle cx="318.32" cy="1515.00" r="2.9"/>
<circle cx="360.95" cy="1508.75" r="2.9"/>
<circle cx="403.59" cy="1500.25" r="2.9"/>
<circle cx="446.22" cy="1490.75" r="2.9"/>
<circle cx="488.86" cy="1486.75" r="2.9"/>
<circle cx="531.50" cy="1481.25" r="2.9"/>
<circle cx="62.50" cy="1522.50" r="2.9"/>
<circle cx="105.14" cy="1530.50" r="2.9"/>
<circle cx="147.77" cy="1533.75" r="2.9"/>
<circle cx="190.41" cy="1531.50" r="2.9"/>
<circle cx="233.04" cy="1534.50" r="2.9"/>
<circle cx="275.68" cy="1536.50" r="2.9"/>
<circle cx="318.32" cy="1538.00" r="2.9"/>
<circle cx="360.95" cy="1532.00" r="2.9"/>
<circle cx="403.59" cy="1519.25" r="2.9"/>
<circle cx="446.22" cy="1514.50" r="2.9"/>
<circle cx="488.86" cy="1502.50" r="2.9"/>
<circle cx="531.50" cy="1502.25" r="2.9"/>
<circle cx="62.50" cy="1561.75" r="2.9"/>
<circle cx="105.14" cy="1575.00" r="2.9"/>
<circle cx="147.77" cy="1575.25" r="2.9"/>
<circle cx="190.41" cy="1569.50" r="2.9"/>
<circle cx="233.04" cy="1567.50" r="2.9"/>
<circle cx="275.68" cy="1561.25" r="2.9"/>
<circle cx="318.32" cy="1555.75" r="2.9"/>
<circle cx="360.95" cy="1548.25" r="2.9"/>
<circle cx="403.59" cy="1540.50" r="2.9"/>
<circle cx="446.22" cy="1541.75" r="2.9"/>
<circle cx="488.86" cy="1535.50" r="2.9"/>
<circle cx="531.50" cy="1527.00" r="2.9"/>
</g>
<g class="labels" fill="#1c1c1c">
<text x="542.00" y="149.00" font-size="12">温州</text>
<text x="542.00" y="333.75" font-size="12">宁波</text>
<text x="542.00" y="358.75" font-size="12">东莞</text>
<text x="542.00" y="427.00" font-size="12">苏州</text>
<text x="542.00" y="542.00" font-size="12">福州</text>
<text x="542.00" y="706.50" font-size="12">绍兴</text>
<text x="542.00" y="729.00" font-size="12">昆山</text>
<text x="542.00" y="796.40" font-size="12">常熟</text>
<text x="542.00" y="825.10" font-size="12">海口</text>
<text x="542.00" y="847.50" font-size="12">天津</text>
<text x="542.00" y="952.50" font-size="12">南通</text>
<text x="542.00" y="1001.50" font-size="12">台州</text>
<text x="542.00" y="1020.50" font-size="12">大连</text>
<text x="542.00" y="1037.20" font-size="12">合肥</text>
<text x="542.00" y="1053.80" font-size="12">无锡</text>
<text x="542.00" y="1069.50" font-size="12">青岛</text>
<text x="542.00" y="1087.00" font-size="12">佛山</text>
<text x="542.00" y="1107.00" font-size="12">武汉</text>
<text x="542.00" y="1127.50" font-size="12">扬州</text>
<text x="542.00" y="1149.50" font-size="12">嘉兴</text>
<text x="542.00" y="1172.00" font-size="12">南昌</text>
<text x="542.00" y="1197.75" font-size="12">廊坊</text>
<text x="542.00" y="1218.50" font-size="12">常州</text>
<text x="542.00" y="1239.00" font-size="12">郑州</text>
<text x="542.00" y="1259.50" font-size="12">石家庄</text>
<text x="542.00" y="1280.00" font-size="12">金华</text>
<text x="542.00" y="1300.00" font-size="12">成都</text>
<text x="542.00" y="1320.25" font-size="12">济南</text>
<text x="542.00" y="1340.00" font-size="12">重庆</text>
<text x="542.00" y="1357.50" font-size="12">昆明</text>
<text x="542.00" y="1373.50" font-size="12">南宁</text>
<text x="542.00" y="1386.50" font-size="12">漳州</text>
<text x="542.00" y="1398.80" font-size="12">湖州</text>
<text x="542.00" y="1410.40" font-size="12">张家港</text>
<text x="542.00" y="1422.00" font-size="12">惠州</text>
<text x="542.00" y="1435.75" font-size="12">西安</text>
<text x="542.00" y="1451.20" font-size="12">汕头</text>
<text x="542.00" y="1469.50" font-size="12">湛江</text>
<text x="542.00" y="1489.00" font-size="12">江阴</text>
<text x="542.00" y="1511.50" font-size="12">中山</text>
<text x="542.00" y="1535.75" font-size="12">太原</text>
</g>
</svg>
</body></html>
